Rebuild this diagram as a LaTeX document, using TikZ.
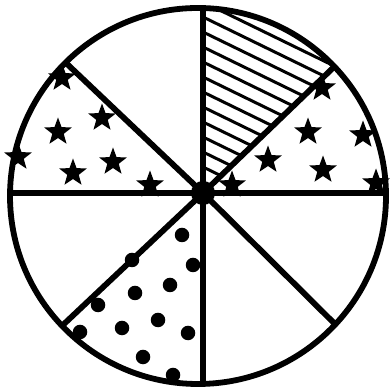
\documentclass[tikz,border=0pt]{standalone}
\usetikzlibrary{shapes.geometric}
\begin{document}
\begin{tikzpicture}[x=0.01cm,y=0.01cm,
  mainline/.style={line width=0.058cm},
  hatchline/.style={line width=0.03cm},
  starnode/.style={star, star points=5, star point ratio=2.4, fill=black, draw=none, minimum size=0.29cm, inner sep=0pt},
  dotnode/.style={circle, fill=black, draw=none, minimum size=0.145cm, inner sep=0pt}]
\useasboundingbox (0,0) rectangle (392,389);
\coordinate (J) at (203,196);
\coordinate (C) at (198,193);
% hatched sector
\begin{scope}
  \clip (C) circle (188);
  \clip (J) -- +(90:300) -- +(67:300) -- +(43.9:300) -- cycle;
  \foreach \k in {0,...,14} {
    \coordinate (h\k) at (203,222+15*\k);
    \draw[hatchline] (h\k) ++(154:60) -- (h\k) -- +(-26:400);
  }
\end{scope}
% stars, left sector
\node[starnode] (sl1) at (62,311) {};
\node[starnode] (sl2) at (102,271) {};
\node[starnode] (sl3) at (58,257) {};
\node[starnode] (sl4) at (18,232) {};
\node[starnode] (sl5) at (113,227) {};
\node[starnode] (sl6) at (73,216) {};
\node[starnode] (sl7) at (150,204) {};
% stars, right sector
\node[starnode] (sr1) at (322,301) {};
\node[starnode] (sr2) at (308,257) {};
\node[starnode] (sr3) at (363,254) {};
\node[starnode] (sr4) at (268,229) {};
\node[starnode] (sr5) at (323,219) {};
\node[starnode] (sr6) at (232,204) {};
\node[starnode] (sr7) at (376,206) {};
% dots
\node[dotnode] (d1) at (182,154) {};
\node[dotnode] (d2) at (132,129) {};
\node[dotnode] (d3) at (193,124) {};
\node[dotnode] (d4) at (170,104) {};
\node[dotnode] (d5) at (135,96) {};
\node[dotnode] (d6) at (98,84) {};
\node[dotnode] (d7) at (158,69) {};
\node[dotnode] (d8) at (122,61) {};
\node[dotnode] (d9) at (188,56) {};
\node[dotnode] (d10) at (80,57) {};
\node[dotnode] (d11) at (143,32) {};
\node[dotnode] (d12) at (173,14) {};
% radial lines
\begin{scope}
  \clip (C) circle (188);
  \draw[mainline] (J) -- +(90:260);
  \draw[mainline] (J) -- +(270:260);
  \draw[mainline] (J) -- +(0:260);
  \draw[mainline] (J) -- +(180:260);
  \draw[mainline] (J) -- +(43.9:260);
  \draw[mainline] (J) -- +(136.5:260);
  \draw[mainline] (J) -- +(223.3:260);
  \draw[mainline] (J) -- +(-44.8:260);
\end{scope}
\draw[mainline] (C) circle (188);
\fill (J) circle (12);
\end{tikzpicture}
\end{document}
